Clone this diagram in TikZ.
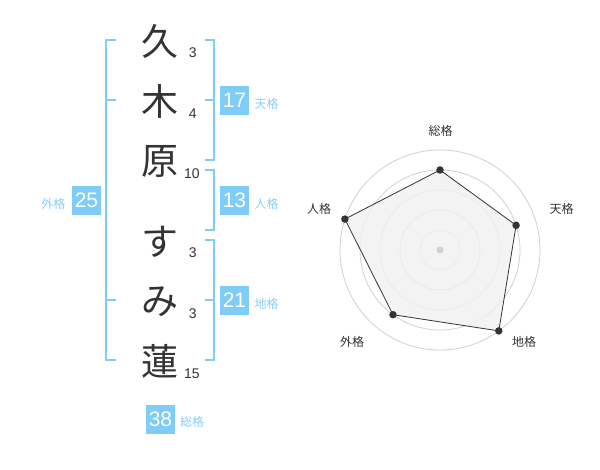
\documentclass[tikz,border=0pt]{standalone}
\usepackage{fontspec}
\usetikzlibrary{calc}
\setmainfont{Liberation Sans}
\newfontfamily\cjk{Noto Sans CJK JP}
\definecolor{bl}{RGB}{128,204,249}
\definecolor{bltext}{RGB}{135,206,250}
\definecolor{ink}{RGB}{51,51,51}
\definecolor{ring}{RGB}{208,208,208}
\definecolor{area}{RGB}{240,240,240}
\begin{document}
\begin{tikzpicture}[x=1pt,y=-1pt,
  kanji/.style={font=\cjk\fontsize{37}{37}\selectfont,text=ink,inner sep=0pt},
  strokes/.style={font=\fontsize{14}{14}\selectfont,text=ink,inner sep=0pt},
  numbox/.style={fill=bl,text=white,minimum width=29pt,minimum height=29pt,inner sep=0pt,font=\fontsize{21}{21}\selectfont},
  kaku/.style={font=\cjk\fontsize{12}{12}\selectfont,text=bltext,inner sep=0pt},
  brk/.style={draw=bl,line width=2pt},
  rlabel/.style={font=\cjk\fontsize{12}{12}\selectfont,text=ink,inner sep=0pt},
  ringline/.style={draw=ring,line width=0.8pt},
  dot/.style={circle,fill=ink,inner sep=0pt,minimum size=7.5pt}]
\useasboundingbox (0,0) rectangle (600,470);
% characters
\node[kanji] (c1) at (160,41.7) {久};
\node[kanji] (c2) at (160,101.7) {木};
\node[kanji] (c3) at (160,161.7) {原};
\node[kanji] (c4) at (160,241.7) {す};
\node[kanji] (c5) at (160,301.7) {み};
\node[kanji] (c6) at (160,361.7) {蓮};
% stroke counts
\node[strokes] (s1) at (192.7,52.3) {3};
\node[strokes] (s2) at (192.7,113.3) {4};
\node[strokes] (s3) at (192,173.3) {10};
\node[strokes] (s4) at (192.7,252.3) {3};
\node[strokes] (s5) at (192.7,313.3) {3};
\node[strokes] (s6) at (192,373.3) {15};
% brackets
\draw[brk] (116,40) -- (106,40) -- (106,360) -- (116,360);
\draw[brk] (106,100) -- (116,100);
\draw[brk] (106,300) -- (116,300);
\draw[brk] (205,40) -- (214.3,40) -- (214.3,160) -- (205,160);
\draw[brk] (205,100) -- (214.3,100);
\draw[brk] (205,170) -- (214.3,170) -- (214.3,230) -- (205,230);
\draw[brk] (205,240) -- (214.3,240) -- (214.3,360) -- (205,360);
\draw[brk] (205,300) -- (214.3,300);
% boxes
\node[numbox] (b17) at (234.5,100.5) {17};
\node[kaku,anchor=west] (l17) at (254.5,104) {天格};
\node[numbox] (b13) at (234.5,200.5) {13};
\node[kaku,anchor=west] (l13) at (254.5,204) {人格};
\node[numbox] (b21) at (234.5,300.5) {21};
\node[kaku,anchor=west] (l21) at (254.5,304) {地格};
\node[numbox] (b25) at (86.5,200.5) {25};
\node[kaku,anchor=east] (l25) at (65.5,204) {外格};
\node[numbox] (b38) at (160.5,419) {38};
\node[kaku,anchor=west] (l38) at (180,422.3) {総格};
% radar
\coordinate (O) at (440,250);
\foreach \r in {20,40,60,80,100} \draw[ringline] (O) circle[radius=\r];
\coordinate (p1) at ($(O)+(0,-80)$);
\coordinate (p2) at ($(O)+(76.1,-24.7)$);
\coordinate (p3) at ($(O)+(58.8,80.9)$);
\coordinate (p4) at ($(O)+(-47,64.7)$);
\coordinate (p5) at ($(O)+(-95.1,-30.9)$);
\fill[area,opacity=0.8] (p1) -- (p2) -- (p3) -- (p4) -- (p5) -- cycle;
\draw[ink,line width=0.8pt] (p1) -- (p2) -- (p3) -- (p4) -- (p5) -- cycle;
\foreach \p in {p1,p2,p3,p4,p5} \node[dot] at (\p) {};
\node[circle,fill=ring,inner sep=0pt,minimum size=7pt] (ctr) at (O) {};
\node[rlabel] (r1) at (440.7,130.7) {総格};
\node[rlabel] (r2) at (561.7,209) {天格};
\node[rlabel] (r3) at (524,342) {地格};
\node[rlabel] (r4) at (352,342) {外格};
\node[rlabel] (r5) at (319,209) {人格};
\end{tikzpicture}
\end{document}
